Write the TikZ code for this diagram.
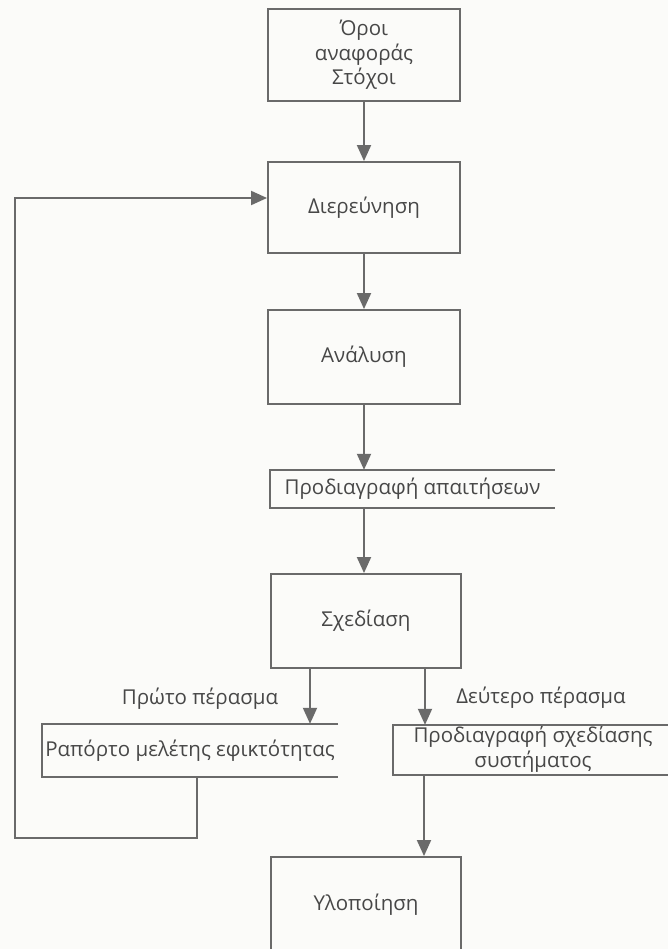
\documentclass[tikz,border=0pt]{standalone}
\usepackage{fontspec}
\setmainfont{Open Sans}
\usetikzlibrary{arrows.meta}
\definecolor{ink}{HTML}{6A6A6A}
\definecolor{txt}{HTML}{474747}
\definecolor{paper}{HTML}{FBFBF9}
\tikzset{
  every node/.style={text=txt, font=\fontsize{20.5}{24.5}\selectfont},
  procbox/.style={draw=ink, line width=1.9pt, minimum width=192pt, align=center, inner sep=0pt},
  storebox/.style={inner sep=0pt, align=center},
  storeline/.style={draw=ink, line width=1.9pt},
  flow/.style={draw=ink, line width=1.9pt, -{Triangle[length=16pt,width=14pt]}},
  passlabel/.style={inner sep=0pt}
}
\begin{document}
\begin{tikzpicture}[x=1pt, y=-1pt]
  \useasboundingbox (0,0) rectangle (668,949);
  \fill[paper] (0,0) rectangle (668,949);
  \clip (0,0) rectangle (668,949);

  % process boxes
  \node[procbox, minimum height=92pt] (terms) at (364,55) {Όροι\\αναφοράς\\Στόχοι};
  \node[procbox, minimum height=91pt] (invest) at (364,207.5) {Διερεύνηση};
  \node[procbox, minimum height=94pt] (anal) at (364,357) {Ανάλυση};
  \node[procbox, minimum width=190pt, minimum height=94pt] (design) at (366,621) {Σχεδίαση};
  \node[procbox, minimum width=190pt, minimum height=96pt] (impl) at (366,905) {Υλοποίηση};

  % document stores: open on the right side
  \node[storebox, minimum width=285pt, minimum height=38pt] (reqs) at (412.5,489) {Προδιαγραφή απαιτήσεων};
  \node[storebox, minimum width=296pt, minimum height=53pt] (feas) at (190,750.5) {Ραπόρτο μελέτης εφικτότητας};
  \node[storebox, minimum width=300pt, minimum height=50pt] (sysspec) at (543,750) {};
  \node[inner sep=0pt, align=center] (sysspectext) at (533,749) {Προδιαγραφή σχεδίασης\\συστήματος};

  \foreach \s in {reqs, feas, sysspec}
    \draw[storeline] (\s.north east) -- (\s.north west) -- (\s.south west) -- (\s.south east);

  % main flow
  \draw[flow] (terms) -- (invest);
  \draw[flow] (invest) -- (anal);
  \draw[flow] (anal.south) -- (anal.south |- reqs.north);
  \draw[flow] (reqs.south -| anal.south) -- (design.north -| anal.south);

  % the two passes out of design
  \draw[flow] ([xshift=-56pt]design.south) -- ([xshift=-56pt]design.south |- feas.north);
  \draw[flow] ([xshift=59pt]design.south) -- ([xshift=59pt]design.south |- sysspec.north);
  \node[passlabel] (pass1) at (200,699) {Πρώτο πέρασμα};
  \node[passlabel] (pass2) at (541,698) {Δεύτερο πέρασμα};

  % feedback loop from the feasibility report back to investigation
  \coordinate (loopcorner) at (15,838);
  \draw[flow] ([xshift=7pt]feas.south) |- (loopcorner) |- ([yshift=9.5pt]invest.west);

  % system design spec to implementation
  \draw[flow] ([xshift=-119pt]sysspec.south) -- ([xshift=-119pt]sysspec.south |- impl.north);
\end{tikzpicture}
\end{document}
